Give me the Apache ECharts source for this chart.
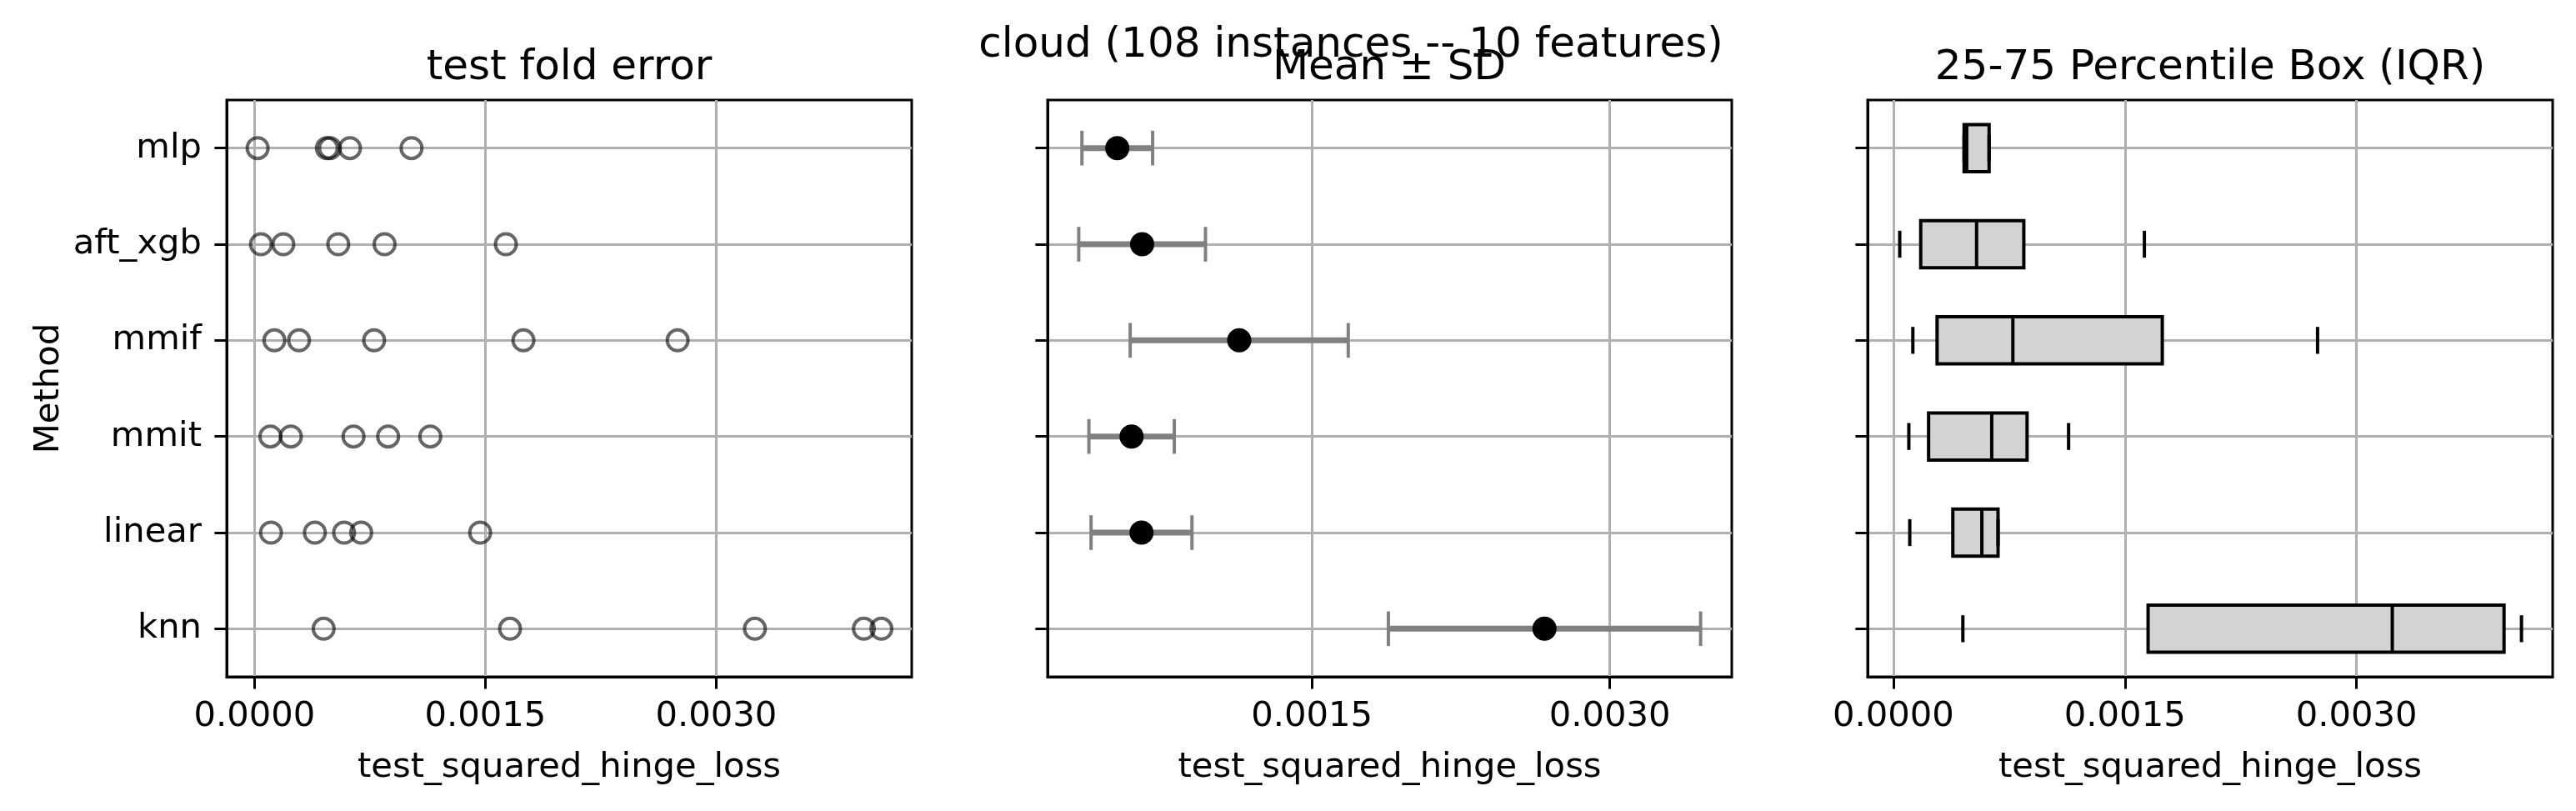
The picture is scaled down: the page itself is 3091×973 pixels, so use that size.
<!DOCTYPE html>
<html>
<head>
<meta charset="utf-8">
<script src="https://cdn.jsdelivr.net/npm/echarts@6/dist/echarts.min.js"></script>
<style>
html,body{margin:0;padding:0;background:#fff}
#chart{width:3091px;height:973px}
</style>
</head>
<body>
<div id="chart"></div>
<script>
// method order, top to bottom
var methods = ['mlp', 'aft_xgb', 'mmif', 'mmit', 'linear', 'knn']

// left panel: one value per test fold
var foldMlp = [0.00002, 0.00047, 0.00049, 0.00062, 0.00102]
var foldAftXgb = [0.000042, 0.000187, 0.000544, 0.000845, 0.001633]
var foldMmif = [0.000129, 0.000289, 0.000777, 0.001747, 0.002749]
var foldMmit = [0.000103, 0.000236, 0.000643, 0.000868, 0.001142]
var foldLinear = [0.000107, 0.000392, 0.000582, 0.000693, 0.001466]
var foldKnn = [0.000449, 0.00166, 0.003251, 0.003959, 0.004073]

// middle panel
var meanVals = [0.00052, 0.000645, 0.001134, 0.000592, 0.000642, 0.002671]
var sdVals = [0.000178, 0.000319, 0.000549, 0.000215, 0.000254, 0.000786]

// right panel
var boxLow = [0.000458, 0.000041, 0.000126, 0.0001, 0.000106, 0.00045]
var boxQ1 = [0.000458, 0.000177, 0.000283, 0.000228, 0.000385, 0.00165]
var boxMed = [0.000475, 0.000539, 0.000774, 0.000637, 0.000573, 0.003232]
var boxQ3 = [0.00062, 0.000845, 0.001742, 0.000866, 0.000678, 0.003956]
var boxHigh = [0.00062, 0.001626, 0.002748, 0.001135, 0.000678, 0.004069]

var xTicks = [0, 0.0015, 0.003]

var FONT = '"DejaVu Sans", sans-serif'
var chart = echarts.init(document.getElementById('chart'))

var folds = [foldMlp, foldAftXgb, foldMmif, foldMmit, foldLinear, foldKnn]
var foldPts = []
folds.forEach(function (arr, i) {
    arr.forEach(function (v) { foldPts.push([v, i]) })
})
var errRows = meanVals.map(function (m, i) { return [m - sdVals[i], i, m + sdVals[i]] })
var meanPts = meanVals.map(function (m, i) { return [m, i] })
var boxRows = methods.map(function (m, i) {
    return [boxLow[i], boxQ1[i], boxMed[i], boxQ3[i], boxHigh[i], i]
})
var rowIdx = methods.map(function (m, i) { return i })

function makeX(gi, min, max) {
    var ticks = xTicks.filter(function (v) { return v >= min && v <= max })
    return {
        type: 'value', gridIndex: gi, min: min, max: max,
        name: 'test_squared_hinge_loss', nameLocation: 'middle', nameGap: 88,
        nameTextStyle: { fontFamily: FONT, fontSize: 41.7, color: '#000' },
        axisLine: { show: true, onZero: false, lineStyle: { color: '#000', width: 3 } },
        axisTick: { show: true, length: 14.6, customValues: ticks, lineStyle: { color: '#000', width: 3 } },
        axisLabel: {
            customValues: ticks, margin: 27, fontFamily: FONT, fontSize: 41.7, color: '#000',
            formatter: function (v) { return v.toFixed(4) }
        },
        splitLine: { show: true, lineStyle: { color: '#b0b0b0', width: 3 } }
    }
}

function makeY(gi, labels) {
    var ax = {
        type: 'value', gridIndex: gi, min: -0.5, max: 5.5, inverse: true,
        axisLine: { show: true, onZero: false, lineStyle: { color: '#000', width: 3 } },
        axisTick: { show: true, length: 14.6, customValues: rowIdx, lineStyle: { color: '#000', width: 3 } },
        axisLabel: {
            show: labels, customValues: rowIdx, margin: 30, fontFamily: FONT, fontSize: 41.7, color: '#000',
            formatter: function (v) { return methods[Math.round(v)] }
        },
        splitLine: { show: true, lineStyle: { color: '#b0b0b0', width: 3 } }
    }
    if (labels) {
        ax.name = 'Method'
        ax.nameLocation = 'middle'
        ax.nameRotate = 90
        ax.nameGap = 192
        ax.nameTextStyle = { fontFamily: FONT, fontSize: 41.7, color: '#000' }
    }
    return ax
}

var gridStyle = { show: true, borderColor: '#000', borderWidth: 3, backgroundColor: 'transparent' }

function titleText(x, y, text) {
    return {
        type: 'text', x: x, y: y, z: 100,
        style: { text: text, fontFamily: FONT, fontSize: 50, fill: '#000', align: 'center', verticalAlign: 'middle' }
    }
}

chart.setOption({
    animation: false,
    backgroundColor: '#fff',
    grid: [
        Object.assign({ left: 272, top: 120, width: 822, height: 692 }, gridStyle),
        Object.assign({ left: 1257, top: 120, width: 821, height: 692 }, gridStyle),
        Object.assign({ left: 2241, top: 120, width: 822, height: 692 }, gridStyle)
    ],
    xAxis: [
        makeX(0, -0.000181, 0.00427),
        makeX(1, 0.000169, 0.003614),
        makeX(2, -0.000167, 0.004271)
    ],
    yAxis: [makeY(0, true), makeY(1, false), makeY(2, false)],
    graphic: [
        titleText(683, 82, 'test fold error'),
        titleText(1667, 82, 'Mean ± SD'),
        titleText(2652, 82, '25-75 Percentile Box (IQR)'),
        titleText(1621, 55, 'cloud (108 instances -- 10 features)')
    ],
    series: [
        {
            type: 'scatter', xAxisIndex: 0, yAxisIndex: 0, data: foldPts,
            symbol: 'circle', symbolSize: 25, silent: true,
            itemStyle: { color: 'rgba(0,0,0,0)', borderColor: 'rgba(0,0,0,0.6)', borderWidth: 4, opacity: 1 }
        },
        {
            type: 'custom', xAxisIndex: 1, yAxisIndex: 1, data: errRows, silent: true,
            encode: { x: [0, 2], y: 1 },
            renderItem: function (params, api) {
                var a = api.coord([api.value(0), api.value(1)])
                var b = api.coord([api.value(2), api.value(1)])
                var cap = 20.8
                var st = { stroke: '#808080', lineWidth: 7 }
                var cs = { stroke: '#808080', lineWidth: 4 }
                return {
                    type: 'group',
                    children: [
                        { type: 'line', shape: { x1: a[0], y1: a[1], x2: b[0], y2: b[1] }, style: st },
                        { type: 'line', shape: { x1: a[0], y1: a[1] - cap, x2: a[0], y2: a[1] + cap }, style: cs },
                        { type: 'line', shape: { x1: b[0], y1: b[1] - cap, x2: b[0], y2: b[1] + cap }, style: cs }
                    ]
                }
            }
        },
        {
            type: 'scatter', xAxisIndex: 1, yAxisIndex: 1, data: meanPts, z: 5,
            symbol: 'circle', symbolSize: 29, silent: true,
            itemStyle: { color: '#000', opacity: 1 }
        },
        {
            type: 'custom', xAxisIndex: 2, yAxisIndex: 2, data: boxRows, silent: true,
            encode: { x: [0, 1, 2, 3, 4], y: 5 },
            renderItem: function (params, api) {
                var row = api.value(5)
                var band = api.size([0, 1])[1]
                var half = band * 0.245
                var capH = band * 0.14
                var lo = api.coord([api.value(0), row])
                var q1 = api.coord([api.value(1), row])
                var md = api.coord([api.value(2), row])
                var q3 = api.coord([api.value(3), row])
                var hi = api.coord([api.value(4), row])
                var y = q1[1]
                var ls = { stroke: '#000', lineWidth: 4 }
                return {
                    type: 'group',
                    children: [
                        { type: 'rect', shape: { x: q1[0], y: y - half, width: q3[0] - q1[0], height: half * 2 },
                          style: { fill: '#d3d3d3', stroke: '#000', lineWidth: 4 } },
                        { type: 'line', shape: { x1: md[0], y1: y - half, x2: md[0], y2: y + half }, style: ls },
                        { type: 'line', shape: { x1: lo[0], y1: y - capH, x2: lo[0], y2: y + capH }, style: ls },
                        { type: 'line', shape: { x1: hi[0], y1: y - capH, x2: hi[0], y2: y + capH }, style: ls }
                    ]
                }
            }
        }
    ]
})
</script>
</body>
</html>
